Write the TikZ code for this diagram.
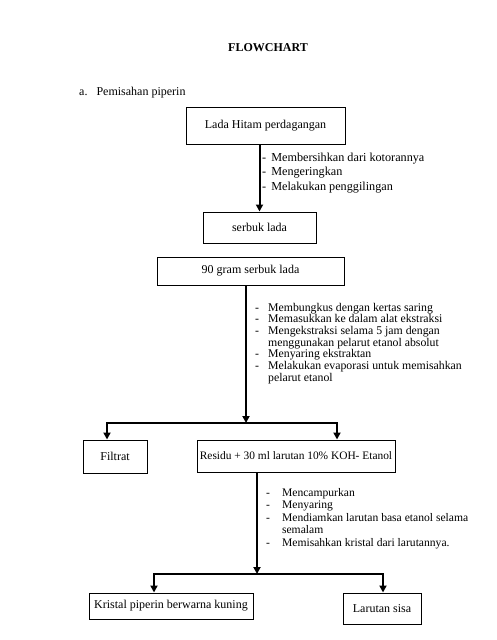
\documentclass[tikz,border=0pt]{standalone}
\usepackage{fontspec}
\setmainfont{Liberation Serif}
\usetikzlibrary{arrows.meta}

\begin{document}
\begin{tikzpicture}[x=1pt, y=-1pt,
  box/.style={draw, line width=1pt, inner sep=0pt, font=\fontsize{12}{14}\selectfont},
  steps/.style={inner sep=0pt, anchor=base west, font=\fontsize{11.8}{11.7}\selectfont},
  arr/.style={line width=2pt, -{Triangle[width=7pt, length=7pt]}},
  fork/.style={line width=2pt, line join=miter, {Triangle[width=7pt, length=7pt]}-{Triangle[width=7pt, length=7pt]}}]
  \useasboundingbox (0, 0) rectangle (496, 640);
  % title and section
  \node[font=\fontsize{12}{14}\selectfont\bfseries] (title) at (268, 48) {FLOWCHART};
  \node[anchor=base west, inner sep=0pt, font=\fontsize{12}{14}\selectfont] (secA) at (79, 95) {a.\hspace{9pt}Pemisahan piperin};

  % boxes
  \node[box, minimum width=159pt, minimum height=37pt] (b1) at (265.5, 125.5) {Lada Hitam perdagangan};
  \node[box, minimum width=113pt, minimum height=31pt] (b2) at (259.5, 227.5) {serbuk lada};
  \node[box, minimum width=187pt, minimum height=28pt] (b3) at (250.5, 271) {90 gram serbuk lada};
  \node[box, minimum width=64pt, minimum height=33pt] (filtrat) at (115, 456.5) {Filtrat};
  \node[box, minimum width=198pt, minimum height=32pt, font=\fontsize{11.4}{14}\selectfont] (residu) at (296, 456) {Residu + 30 ml larutan 10\% KOH- Etanol};
  \node[box, minimum width=164pt, minimum height=26pt] (kristal) at (171, 606) {Kristal piperin berwarna kuning};
  \node[box, minimum width=78pt, minimum height=31pt] (sisa) at (382, 608.5) {Larutan sisa};

  % steps
  \node[steps, font=\fontsize{12.2}{14.5}\selectfont] (s1) at (262, 161) {\begin{tabular}[t]{@{}l@{\hspace{5pt}}l@{}}
    - & Membersihkan dari kotorannya\\
    - & Mengeringkan\\
    - & Melakukan penggilingan
  \end{tabular}};
  \node[steps] (s2) at (255, 311) {\begin{tabular}[t]{@{}l@{\hspace{9pt}}l@{}}
    - & Membungkus dengan kertas saring\\
    - & Memasukkan ke dalam alat ekstraksi\\
    - & Mengekstraksi selama 5 jam dengan\\
      & menggunakan pelarut etanol absolut\\
    - & Menyaring ekstraktan\\
    - & Melakukan evaporasi untuk memisahkan\\
      & pelarut etanol
  \end{tabular}};
  \node[steps, font=\fontsize{11.6}{12.5}\selectfont] (s3) at (266, 496) {\begin{tabular}[t]{@{}l@{\hspace{12pt}}l@{}}
    - & Mencampurkan\\
    - & Menyaring\\
    - & Mendiamkan larutan basa etanol selama\\
      & semalam\\
    - & Memisahkan kristal dari larutannya.
  \end{tabular}};

  % connectors
  \coordinate (j1) at (246, 423);
  \coordinate (j1l) at (107, 423);
  \coordinate (j1r) at (337, 423);
  \coordinate (j2) at (257, 574);
  \coordinate (j2l) at (154, 574);
  \coordinate (j2r) at (383, 574);
  \draw[arr] (b2.north |- b1.south) -- (b2.north);
  \draw[arr] (j1 |- b3.south) -- (j1);
  \draw[fork] (j1l |- filtrat.north) -- (j1l) -- (j1r) -- (j1r |- residu.north);
  \draw[arr] (j2 |- residu.south) -- (j2);
  \draw[fork] (j2l |- kristal.north) -- (j2l) -- (j2r) -- (j2r |- sisa.north);
\end{tikzpicture}
\end{document}
